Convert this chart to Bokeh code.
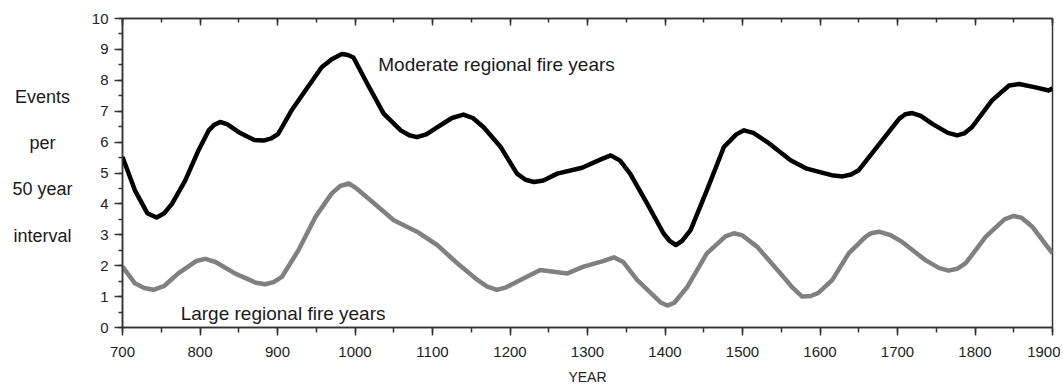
from bokeh.plotting import figure
from bokeh.layouts import row
from bokeh.models import Range1d, LinearAxis, SingleIntervalTicker, Label, CustomJSTickFormatter
from bokeh.core.properties import value
from bokeh.embed import file_html
from bokeh.resources import INLINE

# ---- data ----
mod_years = [700, 716, 732, 744, 754, 764, 781, 798, 811, 818, 826, 835, 850, 870, 882, 892, 901,
             918, 936, 957, 970, 983, 991, 998, 1016, 1037, 1059, 1070, 1080, 1092, 1106, 1125,
             1140, 1152, 1166, 1188, 1209, 1220, 1231, 1243, 1261, 1293, 1318, 1330, 1342, 1355,
             1377, 1398, 1406, 1414, 1422, 1433, 1454, 1476, 1492, 1502, 1514, 1532, 1562, 1583,
             1600, 1615, 1629, 1640, 1650, 1680, 1702, 1710, 1719, 1730, 1745, 1765, 1777, 1786,
             1796, 1822, 1844, 1857, 1878, 1895, 1900]
moderate = [5.52, 4.44, 3.70, 3.56, 3.70, 4.01, 4.76, 5.73, 6.37, 6.55, 6.65, 6.58, 6.32, 6.07, 6.05,
            6.12, 6.27, 7.02, 7.67, 8.42, 8.68, 8.85, 8.82, 8.74, 7.88, 6.92, 6.38, 6.22, 6.16,
            6.25, 6.48, 6.78, 6.89, 6.78, 6.48, 5.84, 4.98, 4.78, 4.71, 4.76, 4.98, 5.17, 5.45,
            5.57, 5.40, 4.98, 4.01, 3.05, 2.80, 2.67, 2.80, 3.15, 4.44, 5.84, 6.25, 6.38, 6.30,
            6.00, 5.41, 5.14, 5.03, 4.93, 4.89, 4.95, 5.09, 6.05, 6.75, 6.90, 6.94, 6.85, 6.59,
            6.30, 6.22, 6.28, 6.48, 7.35, 7.83, 7.88, 7.77, 7.67, 7.74]

large_years = [700, 716, 728, 740, 754, 772, 795, 807, 820, 845, 872, 884, 895, 906, 927, 949, 970,
               981, 992, 1002, 1020, 1050, 1080, 1106, 1132, 1158, 1170, 1183, 1195, 1209, 1239,
               1274, 1295, 1320, 1334, 1346, 1364, 1395, 1403, 1412, 1429, 1454, 1478, 1489, 1500,
               1519, 1549, 1565, 1577, 1588, 1598, 1616, 1637, 1659, 1666, 1676, 1690, 1706, 1736,
               1754, 1766, 1777, 1788, 1814, 1838, 1850, 1860, 1874, 1900]
large = [1.97, 1.43, 1.28, 1.22, 1.35, 1.75, 2.15, 2.22, 2.12, 1.75, 1.45, 1.40, 1.47, 1.65, 2.50,
         3.58, 4.34, 4.58, 4.66, 4.50, 4.12, 3.47, 3.10, 2.67, 2.08, 1.54, 1.33, 1.22, 1.30, 1.48,
         1.86, 1.75, 1.97, 2.15, 2.27, 2.12, 1.54, 0.80, 0.71, 0.80, 1.32, 2.40, 2.95, 3.05, 2.98,
         2.61, 1.75, 1.28, 1.00, 1.02, 1.12, 1.54, 2.40, 2.94, 3.05, 3.10, 3.00, 2.77, 2.18,
         1.92, 1.84, 1.90, 2.08, 2.94, 3.50, 3.61, 3.55, 3.26, 2.40]

ylabel_lines = ["Events", "per", "50 year", "interval"]
ylabel_pos = [7.47, 5.96, 4.47, 2.96]

FONT = "Liberation Sans"
AX = "#333333"
TOP, BOTTOM, H = 18, 59, 387

# ---- left panel holding the horizontal y-axis title ----
lp = figure(width=80, height=H, output_backend="svg", toolbar_location=None,
            x_range=Range1d(0, 80), y_range=Range1d(0, 10),
            min_border_left=0, min_border_right=0, min_border_top=TOP, min_border_bottom=BOTTOM)
lp.axis.visible = False
lp.grid.visible = False
lp.outline_line_color = None
lp.text(x=[42] * len(ylabel_lines), y=ylabel_pos, text=ylabel_lines,
        text_font=value(FONT), text_font_size="18px", text_color="#1a1a1a",
        text_align="center", text_baseline="middle")

# ---- main plot ----
p = figure(width=980, height=H, output_backend="svg", toolbar_location=None,
           x_range=Range1d(700, 1900), y_range=Range1d(0, 10),
           min_border_left=42, min_border_right=8, min_border_top=TOP, min_border_bottom=BOTTOM)
p.grid.visible = False
p.outline_line_color = AX
p.outline_line_width = 1.5

xa = p.xaxis[0]
xa.ticker = SingleIntervalTicker(interval=100, num_minor_ticks=2)
xa.axis_label = "YEAR"
xa.axis_label_text_font = FONT
xa.axis_label_text_font_size = "14px"
xa.axis_label_text_font_style = "normal"
xa.axis_label_text_color = "#222222"
xa.axis_label_standoff = 9
xa.major_label_text_font = FONT
xa.major_label_text_font_size = "15px"
xa.major_label_text_color = "#222222"
xa.major_label_standoff = 11
xa.major_tick_out = 8
xa.major_tick_in = 0
xa.minor_tick_out = 5
xa.minor_tick_in = 0
for attr in ("axis_line_color", "major_tick_line_color", "minor_tick_line_color"):
    setattr(xa, attr, AX)
xa.axis_line_width = 1.5
xa.major_tick_line_width = 1.5
xa.minor_tick_line_width = 1.5

ya = p.yaxis[0]
ya.ticker = SingleIntervalTicker(interval=1, num_minor_ticks=2)
ya.major_label_text_font = FONT
ya.major_label_text_font_size = "15px"
ya.major_label_text_color = "#222222"
ya.major_label_standoff = 6
ya.major_tick_out = 8
ya.major_tick_in = 0
ya.minor_tick_out = 4
ya.minor_tick_in = 0
for attr in ("axis_line_color", "major_tick_line_color", "minor_tick_line_color"):
    setattr(ya, attr, AX)
ya.axis_line_width = 1.5
ya.major_tick_line_width = 1.5
ya.minor_tick_line_width = 1.5

top = LinearAxis(ticker=SingleIntervalTicker(interval=100, num_minor_ticks=2),
                 formatter=CustomJSTickFormatter(code="return '';"),
                 major_label_standoff=0,
                 major_tick_out=0, major_tick_in=7, minor_tick_out=0, minor_tick_in=4,
                 axis_line_color=AX, major_tick_line_color=AX, minor_tick_line_color=AX,
                 axis_line_width=1.5, major_tick_line_width=1.5, minor_tick_line_width=1.5)
p.add_layout(top, "above")

p.line(mod_years, moderate, line_color="#000000", line_width=4.5, line_join="round")
p.line(large_years, large, line_color="#808080", line_width=4.5, line_join="round")

p.add_layout(Label(x=1030, y=8.5, text="Moderate regional fire years", text_font=FONT,
                   text_font_size="19px", text_color="#1a1a1a", text_baseline="alphabetic"))
p.add_layout(Label(x=775, y=0.46, text="Large regional fire years", text_font=FONT,
                   text_font_size="19px", text_color="#1a1a1a", text_baseline="alphabetic"))

layout = row(lp, p, spacing=0)
open("out.html", "w").write(file_html(layout, INLINE))
